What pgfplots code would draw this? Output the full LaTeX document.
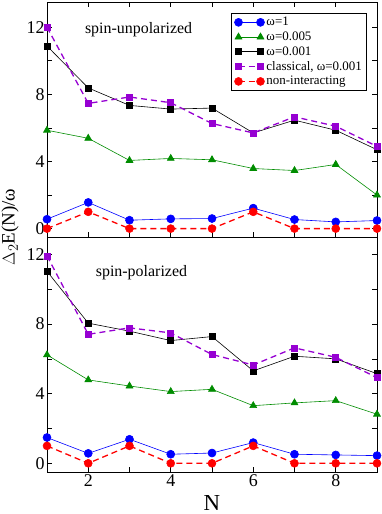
\documentclass[border=0pt]{standalone}
\usepackage{fontspec}
\setmainfont{Liberation Serif}
\usepackage{pgfplots}
\pgfplotsset{compat=1.18}
\definecolor{mypurple}{RGB}{150,0,210}
\definecolor{mygreen}{RGB}{0,140,0}
\begin{document}
\begin{tikzpicture}
\pgfplotsset{
 every axis/.append style={
  scale only axis, width=330bp, height=235bp,
  xmin=1, xmax=9,
  xtick={2,...,8},
  ytick={0,2,...,12},
  yticklabels={0,,4,,8,,12},
  tick align=inside, major tick length=5bp,
  tick style={black, line width=0.6pt},
  axis line style={line width=0.8pt},
  /pgf/number format/assume math mode=true,
  tick label style={font=\fontsize{18}{20}\selectfont},
  yticklabel style={xshift=1bp},
  xticklabel style={yshift=1bp},
 },
 pblue/.style={blue, line width=0.6pt, mark=*, mark size=4bp, mark options={solid}},
 pgreen/.style={mygreen, line width=0.6pt, mark=triangle*, mark size=4bp, mark options={solid}},
 pblack/.style={black, line width=0.6pt, mark=square*, mark size=3bp, mark options={solid}},
 ppurple/.style={mypurple, line width=1.3pt, dash pattern=on 6bp off 4bp, mark=square*, mark size=3bp, mark options={solid, line width=0.5pt}},
 pred/.style={red, line width=1.3pt, dash pattern=on 6bp off 4bp, mark=*, mark size=4bp, mark options={solid, line width=0.5pt}},
}
\begin{axis}[name=top,
  ymin=-0.5, ymax=13.5,
  xticklabels={},
  legend style={at={(rel axis cs:0.97,0.953)}, anchor=north east,
    font=\fontsize{13}{15.5}\selectfont, draw=black, line width=0.6pt,
    inner xsep=3pt, inner ysep=2pt, row sep=0.6pt},
  legend cell align=left,
  legend image code/.code={\draw[#1] plot coordinates {(0bp,0bp) (22bp,0bp)};},
]
\addplot[pblue] coordinates {(1,0.56) (2,1.56) (3,0.5) (4,0.58) (5,0.6) (6,1.22) (7,0.54) (8,0.4) (9,0.48)};
\addlegendentry{ω=1}
\addplot[pgreen] coordinates {(1,5.86) (2,5.38) (3,4.06) (4,4.18) (5,4.1) (6,3.58) (7,3.46) (8,3.82) (9,2.0)};
\addlegendentry{ω=0.005}
\addplot[pblack] coordinates {(1,10.88) (2,8.38) (3,7.34) (4,7.12) (5,7.18) (6,5.7) (7,6.46) (8,5.86) (9,4.7)};
\addlegendentry{ω=0.001}
\addplot[ppurple] coordinates {(1,12.0) (2,7.46) (3,7.84) (4,7.5) (5,6.26) (6,5.7) (7,6.66) (8,6.1) (9,4.9)};
\addlegendentry{classical, ω=0.001}
\addplot[pred] coordinates {(1,0) (2,1) (3,0) (4,0) (5,0) (6,1) (7,0) (8,0) (9,0)};
\addlegendentry{non-interacting}
\node[font=\fontsize{16}{18}\selectfont] at (axis cs:3.22,11.85) {spin-unpolarized};
\end{axis}
\begin{axis}[at={(top.south west)}, anchor=north west,
  ymin=-0.5, ymax=13,
  xtick pos=bottom,
  xticklabels={2,,4,,6,,8},
  xlabel={N}, xlabel style={font=\fontsize{23}{24}\selectfont, at={(rel axis cs:0.5,0)}, anchor=base, yshift=-38bp},
  ylabel={$\Delta_2$E(N)/ω},
  ylabel style={font=\fontsize{19}{21}\selectfont, at={(rel axis cs:-0.112,1.0426)}, anchor=center},
]
\addplot[pblue] coordinates {(1,1.48) (2,0.57) (3,1.38) (4,0.52) (5,0.59) (6,1.19) (7,0.52) (8,0.48) (9,0.44)};
\addplot[pgreen] coordinates {(1,6.23) (2,4.79) (3,4.44) (4,4.12) (5,4.25) (6,3.31) (7,3.47) (8,3.6) (9,2.82)};
\addplot[pblack] coordinates {(1,11.03) (2,8.05) (3,7.59) (4,7.05) (5,7.28) (6,5.31) (7,6.15) (8,6.0) (9,5.15)};
\addplot[ppurple] coordinates {(1,11.92) (2,7.41) (3,7.78) (4,7.49) (5,6.25) (6,5.65) (7,6.63) (8,6.09) (9,4.92)};
\addplot[pred] coordinates {(1,1) (2,0) (3,1) (4,0) (5,0) (6,1) (7,0) (8,0) (9,0)};
\node[font=\fontsize{16}{18}\selectfont] at (axis cs:3.29,10.95) {spin-polarized};
\end{axis}
\pgfresetboundingbox
\path[use as bounding box] ([shift={(-47bp,2bp)}]top.north west) rectangle ([shift={(335bp,-512bp)}]top.north west);
\end{tikzpicture}
\end{document}
